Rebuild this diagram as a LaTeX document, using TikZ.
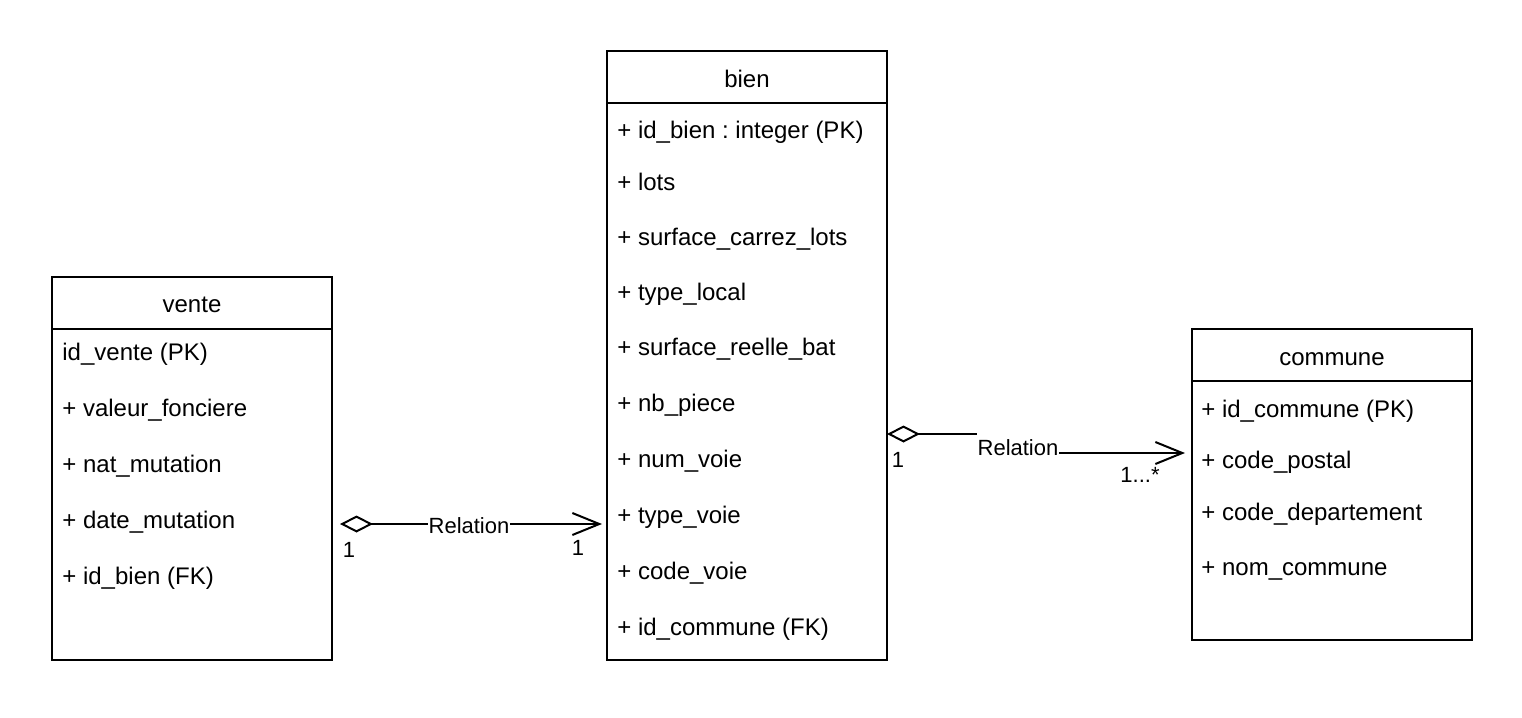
\documentclass[tikz,border=0pt]{standalone}
\usepackage{fontspec}
\setmainfont{Liberation Sans}
\usetikzlibrary{arrows.meta}
\frenchspacing
\begin{document}
\begin{tikzpicture}[x=0.5pt,y=-0.5pt,
  box/.style={draw,line width=1pt,minimum width=140pt,inner sep=0pt,outer sep=0pt,anchor=north west},
  attr/.style={anchor=base west,inner sep=0pt,font=\fontsize{12pt}{14pt}\selectfont},
  head/.style={anchor=base,inner sep=0pt,font=\fontsize{12pt}{14pt}\selectfont},
  elab/.style={anchor=base,inner sep=0pt,font=\fontsize{11pt}{13pt}\selectfont},
  rellab/.style={elab,fill=white,inner xsep=0.5pt,inner ysep=4pt},
  rel/.style={line width=1pt,{Diamond[open,length=16.5pt,width=8.5pt]}-{Straight Barb[length=13.5pt,width=11pt]}},
]
\fill[white] (0,0) rectangle (1522,718);
\useasboundingbox (0,0) rectangle (1522,718);

% boxes
\node[box,minimum height=191.5pt] (vente) at (52,277) {};
\node[box,minimum height=304.5pt] (bien) at (607,51) {};
\node[box,minimum height=155.5pt] (commune) at (1192,329) {};
\draw[line width=1pt] ([yshift=-26pt]vente.north west) -- ([yshift=-26pt]vente.north east);
\draw[line width=1pt] ([yshift=-26pt]bien.north west) -- ([yshift=-26pt]bien.north east);
\draw[line width=1pt] ([yshift=-26pt]commune.north west) -- ([yshift=-26pt]commune.north east);

% headers
\node[head] (vente-h) at (192,312) {vente};
\node[head] (bien-h) at (747,87) {bien};
\node[head] (commune-h) at (1332,365) {commune};

% vente attributes
\node[attr] (v1) at (62,360.5) {id\_vente (PK)};
\node[attr] (v2) at (62,416.5) {+ valeur\_fonciere};
\node[attr] (v3) at (62,472.5) {+ nat\_mutation};
\node[attr] (v4) at (62,528.5) {+ date\_mutation};
\node[attr] (v5) at (62,584.5) {+ id\_bien (FK)};

% bien attributes
\node[attr] (b1) at (617,138.5) {+ id\_bien : integer (PK)};
\node[attr] (b2) at (617,190.5) {+ lots};
\node[attr] (b3) at (617,245.5) {+ surface\_carrez\_lots};
\node[attr] (b4) at (617,300.5) {+ type\_local};
\node[attr] (b5) at (617,355.5) {+ surface\_reelle\_bat};
\node[attr] (b6) at (617,411.5) {+ nb\_piece};
\node[attr] (b7) at (617,467.5) {+ num\_voie};
\node[attr] (b8) at (617,523.5) {+ type\_voie};
\node[attr] (b9) at (617,579.5) {+ code\_voie};
\node[attr] (b10) at (617,635.5) {+ id\_commune (FK)};

% commune attributes
\node[attr] (c1) at (1201,417.5) {+ id\_commune (PK)};
\node[attr] (c2) at (1201,468.5) {+ code\_postal};
\node[attr] (c3) at (1201,520.5) {+ code\_departement};
\node[attr] (c4) at (1201,575.5) {+ nom\_commune};

% relation vente -> bien
\coordinate (e1) at (0,524);
\draw[rel,shorten <=4pt,shorten >=2.5pt] (vente.east |- e1) -- (bien.west |- e1);
\node[rellab] (r1) at (469,533) {Relation};
\node[elab] (r1s) at (349,557) {1};
\node[elab] (r1t) at (578,555) {1};

% relation bien -> commune
\coordinate (e2a) at (0,434);
\coordinate (e2b) at (0,453);
\coordinate (e2m) at (1019,0);
\draw[rel,shorten >=3.5pt] (bien.east |- e2a) -- (e2m |- e2a) -- (e2m |- e2b) -- (commune.west |- e2b);
\node[rellab] (r2) at (1018,455) {Relation};
\node[elab] (r2s) at (898,467) {1};
\node[elab] (r2t) at (1140,482) {1...*};
\end{tikzpicture}
\end{document}
